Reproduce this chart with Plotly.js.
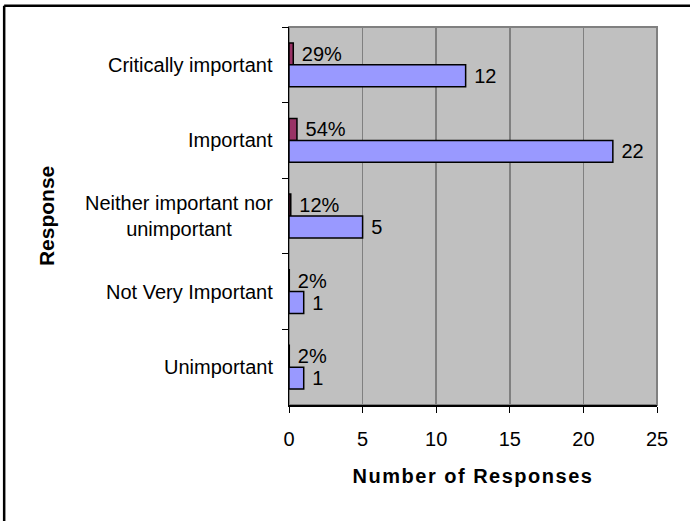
<!DOCTYPE html>
<html>
<head>
<meta charset="utf-8">
<script src="https://cdn.plot.ly/plotly-3.0.1.min.js"></script>
<style>
html,body{margin:0;padding:0;background:#fff;}
#chart{width:690px;height:521px;}
.xtitle{letter-spacing:1.5px;}
</style>
</head>
<body>
<div id="chart"></div>
<script>
const categories = ["Critically important", "Important", "Neither important nor<br>unimportant", "Not Very Important", "Unimportant"];
const counts = [12, 22, 5, 1, 1];
const shares = [0.29, 0.54, 0.12, 0.02, 0.02];
const shareLabels = ["29%", "54%", "12%", "2%", "2%"];
const xTicks = [0, 5, 10, 15, 20, 25];

const FONT = "Liberation Sans, Arial, sans-serif";
const FS = 20;

const traces = [
  {
    type: "bar", orientation: "h",
    y: categories, x: shares,
    text: shareLabels, texttemplate: " %{text}", textposition: "outside",
    cliponaxis: false, constraintext: "none",
    textfont: {family: FONT, size: FS, color: "#000"},
    marker: {color: "#993366", line: {color: "#000", width: 1.5}},
    hoverinfo: "skip"
  },
  {
    type: "bar", orientation: "h",
    y: categories, x: counts,
    text: counts.map(String), texttemplate: " %{text}", textposition: "outside",
    cliponaxis: false, constraintext: "none",
    textfont: {family: FONT, size: FS, color: "#000"},
    marker: {color: "#9999FF", line: {color: "#000", width: 1.5}},
    hoverinfo: "skip"
  }
];

const annotations = categories.map(c => ({
  xref: "paper", yref: "y", x: 0, y: c, xanchor: "right", yanchor: "middle",
  xshift: -14, text: c, showarrow: false, align: "center",
  font: {family: FONT, size: FS, color: "#000"}
}));
annotations.push({
  xref: "paper", yref: "paper", x: -0.66, y: 0.5, xanchor: "center", yanchor: "middle",
  text: "<b>Response</b>", textangle: -90, showarrow: false,
  font: {family: FONT, size: 21, color: "#000"}
});

const layout = {
  width: 690, height: 521,
  margin: {l: 289, r: 33, t: 27, b: 116},
  paper_bgcolor: "#fff", plot_bgcolor: "#C0C0C0",
  showlegend: false,
  barmode: "group", bargap: 0.42, bargroupgap: 0,
  font: {family: FONT, size: FS, color: "#000"},
  xaxis: {
    range: [0, 25], tickvals: xTicks, ticktext: xTicks.map(String),
    showgrid: true, gridcolor: "#808080", gridwidth: 1.5,
    showline: true, linecolor: "#000", linewidth: 1.5,
    ticks: "outside", ticklen: 6, tickcolor: "#000", tickwidth: 1,
    ticklabelstandoff: 9,
    tickfont: {family: FONT, size: FS}, zeroline: false,
    title: {text: "<b>Number of Responses</b>", standoff: 20, font: {family: FONT, size: FS}}
  },
  yaxis: {
    type: "category", autorange: "reversed",
    showticklabels: false, showgrid: false, zeroline: false,
    showline: true, linecolor: "#000", linewidth: 1.5,
    ticks: "outside", tickson: "boundaries", ticklen: 6, tickcolor: "#000", tickwidth: 1
  },
  annotations: annotations,
  shapes: [
    {type: "rect", xref: "paper", yref: "paper", x0: 0, x1: 1, y0: 0, y1: 1,
     line: {color: "#808080", width: 2}, layer: "below"},
    {type: "line", xref: "paper", yref: "paper", x0: -0.774, x1: 1.2, y0: 1.056, y1: 1.056,
     line: {color: "#000", width: 2.5}},
    {type: "line", xref: "paper", yref: "paper", x0: -0.774, x1: -0.774, y0: 1.056, y1: -0.4,
     line: {color: "#000", width: 2.5}}
  ]
};

Plotly.newPlot("chart", traces, layout, {staticPlot: true, displayModeBar: false});
</script>
</body>
</html>
